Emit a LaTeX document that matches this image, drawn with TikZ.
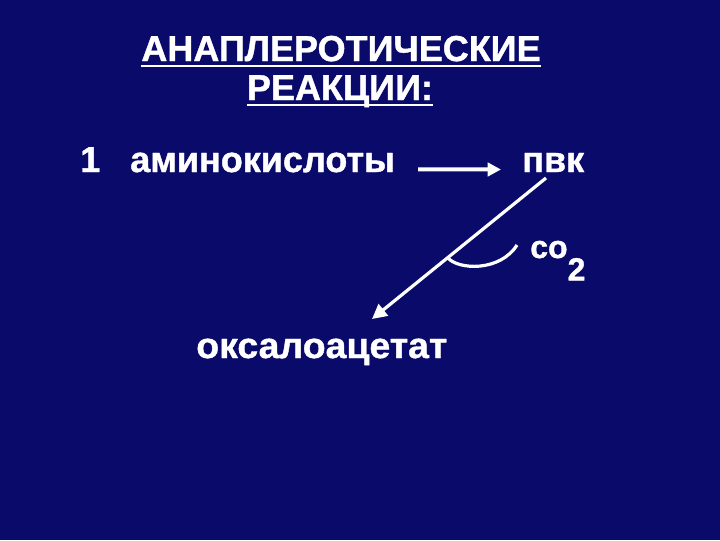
\documentclass[tikz,border=0pt]{standalone}
\usepackage{fontspec}
\setmainfont{Liberation Sans}[BoldFeatures={FakeBold=1.1}]
\usepackage{xcolor}
\usetikzlibrary{arrows.meta,calc}

\definecolor{slidebg}{RGB}{10,10,106}

\tikzset{
  txt/.style={text=white, inner sep=0pt, font=\bfseries\fontsize{27}{31}\selectfont},
  arrline/.style={draw=white, line width=2.4pt, -{Triangle[length=11pt,width=11pt]}},
  uline/.style={draw=white, line width=2.2pt},
}

\begin{document}
\begin{tikzpicture}[x=0.75pt,y=0.75pt,yscale=-1,xscale=1]
%set diagram to the slide size 720 x 540
\path [fill=slidebg] (0,0) rectangle (720,540);

% Title
\node (title1) [txt, anchor=base] at (341,61) {АНАПЛЕРОТИЧЕСКИЕ};
\node (title2) [txt, anchor=base] at (340,100) {РЕАКЦИИ:};
\draw [uline] ($(title1.base west)+(0,5)$) -- ($(title1.base east)+(0,5)$) ;
\draw [uline] ($(title2.base west)+(0,5)$) -- ($(title2.base east)+(0,5)$) ;

% Text Node
\node (num) [txt, anchor=base west] at (80,172) {1};
% Text Node
\node (amino) [txt, anchor=base west] at (130,172) {аминокислоты};
% Text Node
\node (pvk) [txt, anchor=base west] at (522,172) {пвк};
% Text Node
\node (oxalo) [txt, anchor=base west, xscale=1.04] at (196,358) {оксалоацетат};
% Text Node
\node (co2) [txt, anchor=base west, font=\bfseries\fontsize{24}{28}\selectfont] at (530,258) {co\raisebox{-0.7em}{2}};

\coordinate (pvkfoot) at (546,178);
\coordinate (oxatip) at (372,319);
\coordinate (branch) at ($(pvkfoot)!0.565!(oxatip)$);
\coordinate (co2tail) at (517,245);

%Straight Lines
\draw [arrline, line width=3pt, -{Triangle[length=10pt,width=10pt]}] ($(amino.east)+(23,7)$) -- ($(pvk.west)+(-21,7)$) ;
%Straight Lines
\draw [arrline] (pvkfoot) -- (oxatip) ;
%Curve Lines
\draw [white, line width=2.4pt] (branch) .. controls (458,270) and (500,272) .. (co2tail) ;

\end{tikzpicture}
\end{document}
